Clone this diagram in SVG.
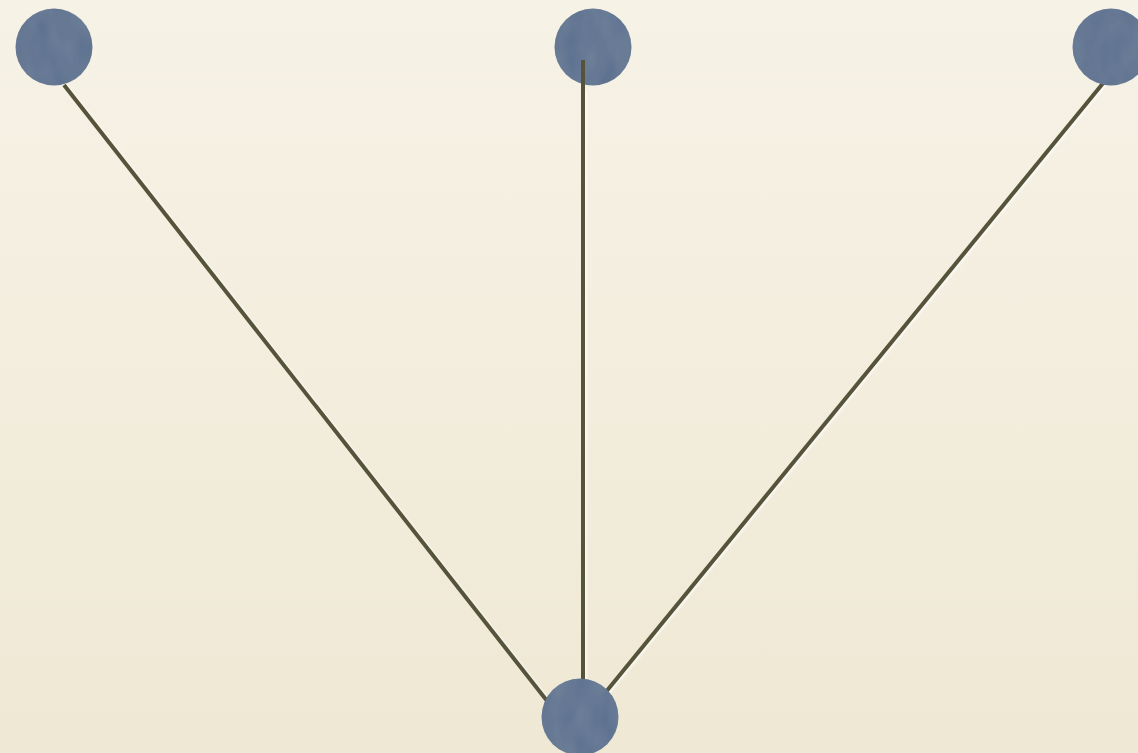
<svg xmlns="http://www.w3.org/2000/svg" width="1138" height="753" viewBox="0 0 1138 753">
  <defs>
    <linearGradient id="bg" x1="0" y1="0" x2="0" y2="1">
      <stop offset="0" stop-color="#f6f2e6"/>
      <stop offset="1" stop-color="#efe8d4"/>
    </linearGradient>
    <filter id="tex" x="-10%" y="-10%" width="120%" height="120%">
      <feTurbulence type="fractalNoise" baseFrequency="0.06 0.03" numOctaves="2" seed="3" result="n"/>
      <feColorMatrix in="n" type="matrix" values="0 0 0 0 1  0 0 0 0 1  0 0 0 0 1  0 0 0 0.07 0" result="w"/>
      <feComposite in="w" in2="SourceGraphic" operator="in" result="wc"/>
      <feMerge><feMergeNode in="SourceGraphic"/><feMergeNode in="wc"/></feMerge>
    </filter>
    <filter id="soft" x="-5%" y="-5%" width="110%" height="110%">
      <feGaussianBlur stdDeviation="1.2"/>
    </filter>
    <style>
      .edge { stroke: #55533a; stroke-width: 4; fill: none; }
      .halo { stroke: #ffffff; stroke-width: 4; fill: none; opacity: 0.7; }
      .node { fill: #5a708e; filter: url(#tex); }
    </style>
  </defs>
  <rect width="1138" height="753" fill="url(#bg)"/>
  <g id="connectors">
    <g transform="translate(2,1)" filter="url(#soft)">
      <line class="halo" x1="64" y1="85" x2="562" y2="720"/>
      <line class="halo" x1="1104" y1="82" x2="583" y2="720"/>
      <line class="halo" x1="583" y1="90" x2="583" y2="690"/>
    </g>
    <line class="edge" x1="64" y1="85" x2="562" y2="720"/>
    <line class="edge" x1="1104" y1="82" x2="583" y2="720"/>
  </g>
  <g id="node-top-left"><circle class="node" cx="54" cy="47" r="38.5"/></g>
  <g id="node-top-middle"><circle class="node" cx="593" cy="47" r="38.5"/></g>
  <g id="node-top-right"><circle class="node" cx="1111" cy="47" r="38.5"/></g>
  <g id="connector-middle"><line class="edge" x1="583" y1="60" x2="583" y2="720"/></g>
  <g id="node-bottom"><circle class="node" cx="580" cy="717" r="38.5"/></g>
</svg>
